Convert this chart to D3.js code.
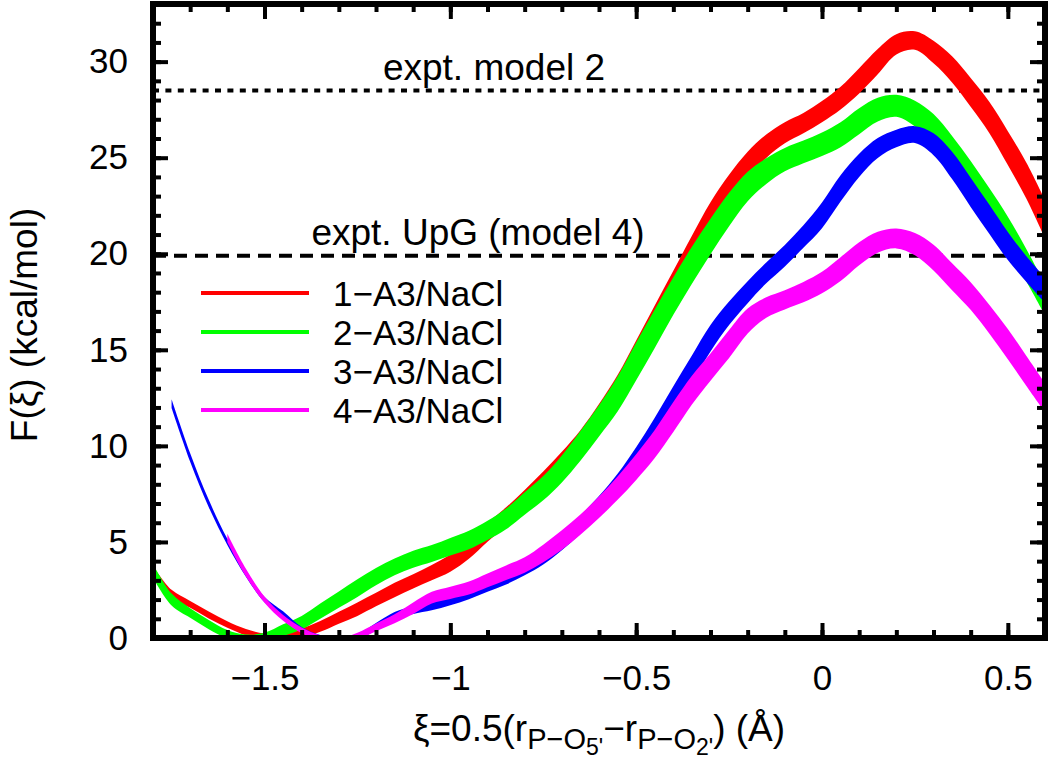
<!DOCTYPE html>
<html>
<head>
<meta charset="utf-8">
<script src="https://cdn.jsdelivr.net/npm/d3@7"></script>
<style>
  html, body { margin: 0; padding: 0; background: #fff; }
  svg { display: block; font-family: "Liberation Sans", Arial, Helvetica, sans-serif; }
</style>
</head>
<body>
<svg id="chart" width="1050" height="765"></svg>
<script>
// ---- data ----
const xs = [-1.80,-1.75,-1.70,-1.65,-1.60,-1.55,-1.50,-1.45,-1.40,-1.35,-1.30,-1.25,-1.20,-1.15,-1.10,-1.05,-1.00,-0.95,-0.90,-0.85,-0.80,-0.75,-0.70,-0.65,-0.60,-0.55,-0.50,-0.45,-0.40,-0.35,-0.30,-0.25,-0.20,-0.15,-0.10,-0.05,0.00,0.05,0.10,0.15,0.20,0.25,0.30,0.35,0.40,0.45,0.50,0.55,0.60];

const red = [3.5,2.3,1.75,1.2,0.7,0.3,0.05,0.05,0.25,0.6,1.05,1.5,2.0,2.5,2.95,3.4,3.9,4.6,5.5,6.3,7.2,8.1,9.1,10.2,11.5,12.9,14.6,16.4,18.2,20.0,21.8,23.3,24.6,25.6,26.3,26.8,27.4,28.1,29.0,30.0,30.9,31.1,30.5,29.6,28.4,27.1,25.5,23.8,21.8];
const redErr = [0.24,0.21,0.18,0.18,0.17,0.17,0.18,0.21,0.25,0.28,0.31,0.35,0.35,0.38,0.37,0.40,0.45,0.48,0.49,0.50,0.51,0.56,0.59,0.62,0.68,0.79,0.89,0.91,0.91,0.94,0.88,0.81,0.71,0.61,0.55,0.53,0.55,0.59,0.66,0.66,0.53,0.48,0.59,0.68,0.75,0.81,0.88,0.94,1.0];

const green = [3.5,2.0,1.3,0.7,0.2,-0.05,0.0,0.4,0.8,1.4,2.0,2.6,3.2,3.7,4.1,4.4,4.75,5.1,5.6,6.2,7.0,7.8,8.8,10.0,11.3,12.7,14.4,16.1,17.8,19.4,20.9,22.3,23.5,24.3,24.9,25.3,25.7,26.2,26.9,27.5,27.7,27.3,26.5,25.3,24.0,22.6,21.1,19.4,17.6];
const greenErr = [0.37,0.31,0.25,0.24,0.22,0.23,0.27,0.31,0.35,0.40,0.42,0.46,0.45,0.44,0.44,0.44,0.46,0.48,0.50,0.54,0.58,0.63,0.70,0.77,0.81,0.91,0.98,1.0,0.98,0.96,0.92,0.87,0.77,0.67,0.61,0.59,0.61,0.65,0.68,0.62,0.57,0.67,0.77,0.83,0.83,0.82,0.83,0.84,0.80];

const blue = [null,12.2,9.4,7.0,5.0,3.35,2.0,1.25,0.45,0.05,-0.1,0.05,0.6,1.15,1.45,1.65,1.95,2.3,2.7,3.1,3.6,4.2,5.0,5.9,6.9,8.0,9.3,10.8,12.4,14.0,15.6,16.9,18.0,19.0,19.9,20.9,22.0,23.4,24.6,25.5,26.0,26.2,25.7,24.6,23.2,21.8,20.4,19.2,18.1];
const blueErr = [null,0.23,0.22,0.19,0.16,0.16,0.14,0.14,0.12,0.11,0.12,0.14,0.18,0.20,0.20,0.21,0.25,0.28,0.29,0.31,0.34,0.38,0.43,0.47,0.49,0.55,0.63,0.67,0.71,0.71,0.69,0.61,0.57,0.54,0.56,0.59,0.67,0.68,0.60,0.52,0.46,0.44,0.57,0.71,0.76,0.76,0.73,0.67,0.66];

const magenta = [null,null,null,null,5.2,3.4,2.0,1.05,0.4,0.0,-0.15,0.1,0.55,1.0,1.55,2.1,2.35,2.6,3.0,3.4,3.8,4.4,5.1,5.9,6.8,7.8,8.9,10.1,11.5,12.9,14.1,15.3,16.5,17.2,17.6,18.0,18.5,19.2,20.0,20.6,20.8,20.5,19.8,18.8,17.8,16.6,15.3,13.9,12.5];
const magentaErr = [null,null,null,null,0.22,0.20,0.16,0.15,0.15,0.14,0.13,0.17,0.20,0.23,0.30,0.31,0.32,0.34,0.36,0.38,0.40,0.46,0.51,0.53,0.56,0.61,0.67,0.73,0.78,0.75,0.71,0.73,0.65,0.53,0.50,0.53,0.56,0.62,0.60,0.55,0.52,0.58,0.67,0.70,0.72,0.75,0.79,0.78,0.76];

const seriesNames = ["1\u2212A3/NaCl","2\u2212A3/NaCl","3\u2212A3/NaCl","4\u2212A3/NaCl"];
const seriesColors = ["#ff0000","#00ff00","#0000ff","#ff00ff"];
const seriesValues = [red, green, blue, magenta];
const seriesErrors = [redErr, greenErr, blueErr, magentaErr];

const refValues = [28.5, 19.9];
const refLabels = ["expt. model 2", "expt. UpG (model 4)"];

const xTicksMajor = [-1.5,-1,-0.5,0,0.5];
const yTicksMajor = [0,5,10,15,20,25,30];
const xDomain = [-1.8, 0.6];
const yDomain = [0, 33];

// ---- layout ----
const L = 153, R = 1045, T = 4, B = 638;
const svg = d3.select("#chart");
const x = d3.scaleLinear().domain(xDomain).range([L, R]);
const y = d3.scaleLinear().domain(yDomain).range([B, T]);

svg.append("defs").append("clipPath").attr("id","plotclip")
  .append("rect").attr("x",L).attr("y",T).attr("width",R-L).attr("height",B-T);

const plot = svg.append("g").attr("clip-path","url(#plotclip)");

// reference lines
const refDash = ["6,6.4", "13,8"];
refValues.forEach((v,i) => {
  plot.append("line")
    .attr("x1", L).attr("x2", R)
    .attr("y1", y(v)).attr("y2", y(v))
    .attr("stroke","#000").attr("stroke-width",4)
    .attr("stroke-dasharray", refDash[i]);
});

// bands
seriesValues.forEach((vals, s) => {
  const errs = seriesErrors[s];
  const pts = xs.map((xv,i) => ({x: xv, v: vals[i], e: errs[i]}));
  const area = d3.area()
    .defined(d => d.v !== null)
    .x(d => x(d.x))
    .y0(d => y(d.v - d.e))
    .y1(d => y(d.v + d.e))
    .curve(d3.curveCatmullRom.alpha(0.5));
  plot.append("path").datum(pts)
    .attr("d", area)
    .attr("fill", seriesColors[s])
    .attr("stroke", "none");
});

// reference labels
const refLabelPos = [[494, 80], [478, 245]];
refLabels.forEach((t,i) => {
  svg.append("text").attr("x", refLabelPos[i][0]).attr("y", refLabelPos[i][1])
    .attr("text-anchor","middle").attr("font-size",37).text(t);
});

// legend
const legY0 = 293, legDy = 39;
seriesNames.forEach((n,i) => {
  const g = svg.append("g").attr("transform", `translate(0,${legY0 + i*legDy})`);
  g.append("line").attr("x1",201).attr("x2",309).attr("y1",0).attr("y2",0)
    .attr("stroke", seriesColors[i]).attr("stroke-width",4);
  g.append("text").attr("x",333).attr("y",0).attr("dy","0.36em")
    .attr("font-size",35).text(n);
});

// axes
const fmt = d => String(d).replace("-", "\u2212");
const xMinor = d3.range(-18, 7).map(k => k/10);
const yMinor = d3.range(0, 34);

function styleAxis(g) {
  g.select(".domain").remove();
  g.selectAll(".tick line").attr("stroke","#000").attr("stroke-width",4);
  g.selectAll("text").attr("font-size",35).attr("fill","#000")
    .attr("font-family","'Liberation Sans', Arial, sans-serif");
}

// bottom
svg.append("g").attr("transform",`translate(0,${B})`)
  .call(d3.axisBottom(x).tickValues(xMinor).tickSize(-8).tickFormat("")).call(styleAxis);
svg.append("g").attr("transform",`translate(0,${B})`)
  .call(d3.axisBottom(x).tickValues(xTicksMajor).tickSize(-15).tickPadding(27).tickFormat(fmt)).call(styleAxis);
// top
svg.append("g").attr("transform",`translate(0,${T})`)
  .call(d3.axisTop(x).tickValues(xMinor).tickSize(-8).tickFormat("")).call(styleAxis);
svg.append("g").attr("transform",`translate(0,${T})`)
  .call(d3.axisTop(x).tickValues(xTicksMajor).tickSize(-15).tickFormat("")).call(styleAxis);
// left
svg.append("g").attr("transform",`translate(${L},0)`)
  .call(d3.axisLeft(y).tickValues(yMinor).tickSize(-8).tickFormat("")).call(styleAxis);
svg.append("g").attr("transform",`translate(${L},0)`)
  .call(d3.axisLeft(y).tickValues(yTicksMajor).tickSize(-15).tickPadding(25).tickFormat(fmt)).call(styleAxis);
// right
svg.append("g").attr("transform",`translate(${R},0)`)
  .call(d3.axisRight(y).tickValues(yMinor).tickSize(-8).tickFormat("")).call(styleAxis);
svg.append("g").attr("transform",`translate(${R},0)`)
  .call(d3.axisRight(y).tickValues(yTicksMajor).tickSize(-15).tickFormat("")).call(styleAxis);

// frame
svg.append("rect").attr("x",L).attr("y",T).attr("width",R-L).attr("height",B-T)
  .attr("fill","none").attr("stroke","#000").attr("stroke-width",6);

// axis titles
const xt = svg.append("text").attr("x",599).attr("y",741).attr("text-anchor","middle").attr("font-size",37);
xt.append("tspan").text("\u03BE=0.5(r");
xt.append("tspan").attr("font-size",29).attr("dy",8).text("P\u2212O");
xt.append("tspan").attr("font-size",23).attr("dy",6).text("5'");
xt.append("tspan").attr("font-size",37).attr("dy",-14).text("\u2212r");
xt.append("tspan").attr("font-size",29).attr("dy",8).text("P\u2212O");
xt.append("tspan").attr("font-size",23).attr("dy",6).text("2'");
xt.append("tspan").attr("font-size",37).attr("dy",-14).text(") (\u00C5)");

svg.append("text").attr("transform","translate(37,325) rotate(-90)")
  .attr("text-anchor","middle").attr("font-size",37).text("F(\u03BE) (kcal/mol)");
</script>
</body>
</html>
